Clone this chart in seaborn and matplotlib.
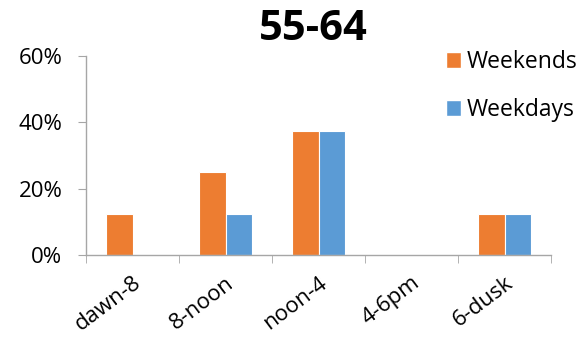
import pandas as pd
import numpy as np
import matplotlib.pyplot as plt
import seaborn as sns
from matplotlib.ticker import PercentFormatter, FixedLocator
from matplotlib.patches import Patch

categories = ['dawn-8', '8-noon', 'noon-4', '4-6pm', '6-dusk']
weekends = [0.125, 0.25, 0.375, 0.0, 0.125]
weekdays = [0.0, 0.125, 0.375, 0.0, 0.125]
series = ['Weekends', 'Weekdays']
colors = ['#ED7D31', '#5B9BD5']

data = pd.DataFrame({
    'slot': categories * 2,
    'share': weekends + weekdays,
    'group': ['Weekends'] * 5 + ['Weekdays'] * 5,
})

sns.set_style('white')
plt.rcParams['font.family'] = ['Open Sans', 'DejaVu Sans']
plt.rcParams['text.color'] = 'black'
plt.rcParams['xtick.color'] = 'black'
plt.rcParams['ytick.color'] = 'black'

fig = plt.figure(figsize=(5.87, 3.41), dpi=100)
ax = fig.add_axes([86 / 587, 1 - 255 / 341, 465 / 587, 199 / 341])

sns.barplot(data=data, x='slot', y='share', hue='group', hue_order=series,
            palette=colors, width=0.57, saturation=1, ax=ax, legend=False,
            linewidth=0.8, edgecolor='white')

ax.set_ylim(0, 0.6)
ax.set_xlim(-0.5, 4.5)
ax.yaxis.set_major_locator(FixedLocator([0, 0.2, 0.4, 0.6]))
ax.yaxis.set_major_formatter(PercentFormatter(1.0, decimals=0))
ax.set_xlabel('')
ax.set_ylabel('')
for s in ['top', 'right']:
    ax.spines[s].set_visible(False)
for s in ['left', 'bottom']:
    ax.spines[s].set_color('#A6A6A6')
    ax.spines[s].set_linewidth(1)

ax.tick_params(axis='y', which='major', left=True, length=6, color='#A6A6A6',
               labelcolor='black', labelsize=16, pad=11)
ax.tick_params(axis='x', which='major', bottom=False, labelcolor='black',
               labelsize=16, pad=9)
ax.xaxis.set_minor_locator(FixedLocator(np.arange(-0.5, 5, 1)))
ax.tick_params(axis='x', which='minor', bottom=True, length=6, color='#A6A6A6')
plt.setp(ax.get_xticklabels(), rotation=37, ha='right', rotation_mode='anchor')

fig.text(313 / 587, 1 - 30 / 341, '55-64', ha='center', va='center',
         fontsize=30, fontweight='bold', color='black')

handles = [Patch(facecolor=c, label=l) for c, l in zip(colors, series)]
fig.legend(handles=handles, loc='upper left', bbox_to_anchor=(446 / 587, 1 - 50 / 341),
           frameon=False, fontsize=16.5, handlelength=0.65, handleheight=0.65,
           handletextpad=0.25, labelspacing=1.05, borderpad=0, borderaxespad=0,
           labelcolor='black')

fig.savefig('out.png', dpi=100)
